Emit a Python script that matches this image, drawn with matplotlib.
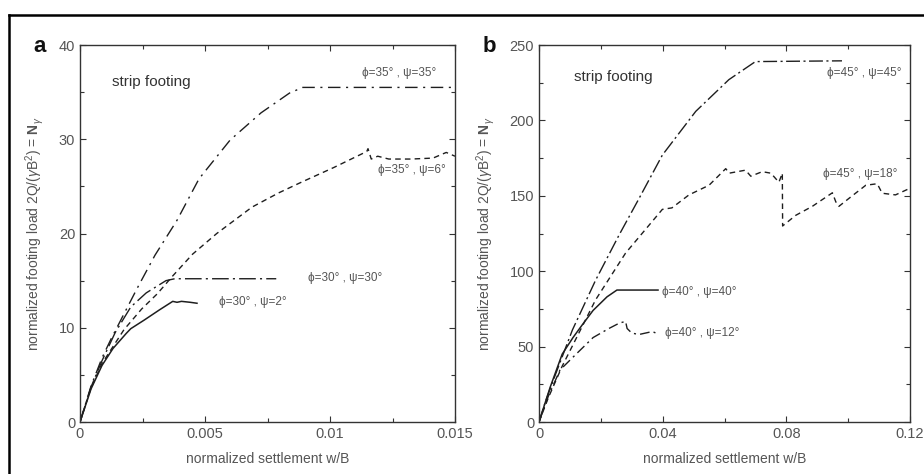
import matplotlib
matplotlib.use("Agg")
import matplotlib.pyplot as plt
from matplotlib.lines import Line2D
from matplotlib.ticker import MultipleLocator

plt.rcParams['font.family'] = ['Liberation Sans', 'DejaVu Sans']
plt.rcParams['mathtext.fontset'] = 'custom'
plt.rcParams['mathtext.rm'] = 'Liberation Sans'
plt.rcParams['mathtext.it'] = 'Liberation Sans:italic'
plt.rcParams['mathtext.bf'] = 'Liberation Sans:bold'

# ---------------- panel a data ----------------
a_w_3535 = [0, 0.00044, 0.00088, 0.00124, 0.00229, 0.0030, 0.00388, 0.00476, 0.0060, 0.00724, 0.00838, 0.00891, 0.015]
a_N_3535 = [0, 3.8, 6.8, 8.8, 14.2, 17.7, 21.4, 25.8, 29.9, 32.8, 34.9, 35.5, 35.5]

a_w_356 = [0, 0.00044, 0.00088, 0.00176, 0.00247, 0.00309, 0.00371, 0.0045, 0.00547, 0.00688, 0.00794, 0.00882,
           0.01015, 0.01147, 0.01152, 0.01165, 0.01191, 0.01235, 0.01324, 0.01412, 0.01465, 0.0150]
a_N_356 = [0, 3.6, 6.2, 9.8, 12.0, 13.6, 15.5, 17.8, 20.0, 22.8, 24.3, 25.4,
           27.0, 28.7, 29.0, 27.9, 28.2, 27.9, 27.9, 28.0, 28.6, 28.2]

a_w_3030 = [0, 0.00044, 0.00088, 0.00141, 0.00203, 0.00265, 0.00344, 0.00379, 0.00785]
a_N_3030 = [0, 3.7, 6.5, 9.5, 12.2, 13.7, 15.0, 15.2, 15.2]

a_w_302 = [0, 0.00044, 0.00088, 0.00132, 0.00185, 0.00203, 0.00256, 0.00318, 0.00371, 0.00388, 0.00406, 0.00441, 0.00468]
a_N_302 = [0, 3.5, 6.0, 7.8, 9.4, 9.9, 10.8, 11.9, 12.8, 12.7, 12.8, 12.7, 12.6]

a_labels = ["ϕ=35° , ψ=35°", "ϕ=35° , ψ=6°", "ϕ=30° , ψ=30°", "ϕ=30° , ψ=2°"]
a_label_w = [0.0113, 0.0119, 0.0091, 0.00556]
a_label_N = [37.0, 26.7, 15.3, 12.7]

# ---------------- panel b data ----------------
b_w_4545 = [0, 0.002, 0.0043, 0.0108, 0.0183, 0.0259, 0.0323, 0.0399, 0.0507, 0.0614, 0.070, 0.098]
b_N_4545 = [0, 13, 26, 61, 94, 124, 148, 177, 206, 227, 239, 239.5]

b_w_4518 = [0, 0.003, 0.0075, 0.0183, 0.028, 0.0399, 0.043, 0.0485, 0.055, 0.0604, 0.0615, 0.0668, 0.0685,
            0.0722, 0.075, 0.0776, 0.0787, 0.0788, 0.083, 0.0884, 0.0949, 0.096, 0.097, 0.101, 0.1057,
            0.1094, 0.111, 0.1153, 0.12]
b_N_4518 = [0, 16, 37, 81, 112, 141, 142, 150.6, 157, 168, 165, 167, 163,
            166, 165, 159, 165, 130, 137, 143, 152, 146, 143, 149.5, 157,
            158, 151.7, 150.6, 155]

b_w_4040 = [0, 0.0036, 0.0075, 0.011, 0.0142, 0.0175, 0.022, 0.0252, 0.0385]
b_N_4040 = [0, 23, 45, 56, 65, 74, 83, 87.5, 87.5]

b_w_4012 = [0, 0.003, 0.0068, 0.011, 0.0175, 0.0226, 0.026, 0.028, 0.0285, 0.030, 0.0323, 0.0367, 0.0388]
b_N_4012 = [0, 17, 34.5, 43, 56, 62, 65.6, 66.7, 62, 59, 58, 60, 58]

b_labels = ["ϕ=45° , ψ=45°", "ϕ=45° , ψ=18°", "ϕ=40° , ψ=40°", "ϕ=40° , ψ=12°"]
b_label_w = [0.0931, 0.092, 0.0398, 0.0407]
b_label_N = [231.4, 164.5, 86, 59]

LC = '#1e1e1e'
TC = '#555555'

fig = plt.figure(figsize=(9.24, 4.74), dpi=100)

ax_a = fig.add_axes([80/924, 52/474, 375/924, 377/474])
ax_b = fig.add_axes([539/924, 52/474, 371/924, 377/474])

# panel a curves
ax_a.plot(a_w_3535, a_N_3535, color=LC, lw=1.0, ls=(0, (9, 4, 1.5, 4)))
ax_a.plot(a_w_356, a_N_356, color=LC, lw=1.0, ls=(0, (4, 3)))
ax_a.plot(a_w_3030, a_N_3030, color=LC, lw=1.0, ls=(0, (12, 3, 1.5, 3)))
ax_a.plot(a_w_302, a_N_302, color=LC, lw=1.1, ls='-')

# panel b curves
ax_b.plot(b_w_4545, b_N_4545, color=LC, lw=1.0, ls=(0, (10, 2.5, 1.5, 2.5)))
ax_b.plot(b_w_4518, b_N_4518, color=LC, lw=1.0, ls=(0, (4, 3)))
ax_b.plot(b_w_4040, b_N_4040, color=LC, lw=1.1, ls='-')
ax_b.plot(b_w_4012, b_N_4012, color=LC, lw=1.0, ls=(0, (7, 3, 1.5, 3)))

for t, x, y in zip(a_labels, a_label_w, a_label_N):
    ax_a.text(x, y, t, fontsize=8.5, color=TC, va='center', ha='left')
for t, x, y in zip(b_labels, b_label_w, b_label_N):
    ax_b.text(x, y, t, fontsize=8.5, color=TC, va='center', ha='left')

ax_a.text(0.00128, 36.1, "strip footing", fontsize=11, color='#333333', va='center', ha='left')
ax_b.text(0.0113, 229, "strip footing", fontsize=11, color='#333333', va='center', ha='left')

ylab = r"normalized footing load 2Q/($\gamma$B$^2$) = $\mathbf{N}_{\gamma}$"
for ax, xmax, ymax, xmin, ymaj, ymin, xt, xtl in [
        (ax_a, 0.015, 40, 0.0025, 10, 5, [0, 0.005, 0.01, 0.015], ["0", "0.005", "0.01", "0.015"]),
        (ax_b, 0.12, 250, 0.02, 50, 25, [0, 0.04, 0.08, 0.12], ["0", "0.04", "0.08", "0.12"])]:
    ax.set_xlim(0, xmax)
    ax.set_ylim(0, ymax)
    ax.set_xticks(xt)
    ax.set_xticklabels(xtl)
    ax.xaxis.set_minor_locator(MultipleLocator(xmin))
    ax.yaxis.set_major_locator(MultipleLocator(ymaj))
    ax.yaxis.set_minor_locator(MultipleLocator(ymin))
    ax.tick_params(which='both', direction='in', top=True, right=True, colors='#333333',
                   labelcolor=TC, labelsize=10.5)
    ax.tick_params(which='major', length=4, width=0.8)
    ax.tick_params(which='minor', length=3, width=0.8)
    for s in ax.spines.values():
        s.set_color('#333333')
        s.set_linewidth(1.0)
    ax.set_xlabel("normalized settlement w/B", fontsize=10, color=TC, labelpad=8)
    ax.set_ylabel(ylab, fontsize=10, color=TC, labelpad=9)

fig.text(33/924, 1 - 47/474, "a", fontsize=16, fontweight='bold', va='center', ha='left', color='#111111')
fig.text(483/924, 1 - 47/474, "b", fontsize=16, fontweight='bold', va='center', ha='left', color='#111111')

# outer frame (top and left edges)
fig.add_artist(Line2D([8.5/924, 1.0], [1 - 15/474, 1 - 15/474], transform=fig.transFigure, color='black', lw=1.8))
fig.add_artist(Line2D([8.5/924, 8.5/924], [0, 1 - 15/474], transform=fig.transFigure, color='black', lw=1.8))

fig.savefig("out.png", dpi=100)
